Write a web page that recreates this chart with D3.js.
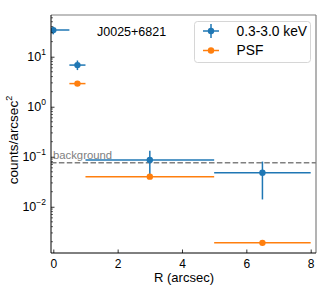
<!DOCTYPE html>
<html><head><meta charset="utf-8">
<script src="https://cdn.jsdelivr.net/npm/d3@7"></script>
<style>body{margin:0;background:#fff}svg{display:block;font-family:"Liberation Sans",Arial,sans-serif}</style>
</head><body><svg id="c" width="324" height="291"></svg>
<script>
// Data
const blueX   = [0, 0.75, 3, 6.5];
const blueXlo = [-0.5, 0.5, 1, 5];
const blueXhi = [0.5, 1.0, 5, 8];
const blueY   = [34, 6.8, 0.086, 0.048];
const blueYlo = [28, 5.4, 0.040, 0.014];
const blueYhi = [40, 8.4, 0.132, 0.080];
const psfX    = [0.75, 3, 6.5];
const psfXlo  = [0.5, 1, 5];
const psfXhi  = [1.0, 5, 8];
const psfY    = [2.9, 0.040, 0.0019];
const background = 0.076;
const xTicks = [0, 2, 4, 6, 8];
const yTicks = [0.01, 0.1, 1, 10];
const seriesNames = ["0.3-3.0 keV", "PSF"];
const colors = ["#1f77b4", "#ff7f0e"];

const svg = d3.select("#c");
const L = 51, R = 316, T = 15, B = 253;
const x = d3.scaleLinear().domain([-0.0715, 8.165]).range([L, R]);
const y = d3.scaleLog().domain([0.00119, 68.2]).range([B, T]);

svg.append("clipPath").attr("id","cp").append("rect").attr("x",L).attr("y",T).attr("width",R-L).attr("height",B-T);
const pg = svg.append("g").attr("clip-path","url(#cp)");

// background line
pg.append("line").attr("x1",L).attr("x2",R).attr("y1",y(background)).attr("y2",y(background))
  .attr("stroke","#808080").attr("stroke-width",1.5).attr("stroke-dasharray","5.5,2.4");
svg.append("text").attr("x",53).attr("y",y(background)-3.5).attr("fill","#808080").attr("font-size",11.3).text("background");

function drawSeries(xs, xlo, xhi, ys, ylo, yhi, col){
  xs.forEach((v,i)=>{
    pg.append("line").attr("x1",x(xlo[i])).attr("x2",x(xhi[i])).attr("y1",y(ys[i])).attr("y2",y(ys[i]))
      .attr("stroke",col).attr("stroke-width",1.5);
    if (ylo) pg.append("line").attr("x1",x(v)).attr("x2",x(v)).attr("y1",y(ylo[i])).attr("y2",y(yhi[i]))
      .attr("stroke",col).attr("stroke-width",1.5);
    pg.append("circle").attr("cx",x(v)).attr("cy",y(ys[i])).attr("r",3.2).attr("fill",col);
  });
}
drawSeries(blueX, blueXlo, blueXhi, blueY, blueYlo, blueYhi, colors[0]);
drawSeries(psfX, psfXlo, psfXhi, psfY, null, null, colors[1]);

// axes
const xa = svg.append("g").attr("transform",`translate(0,${B})`)
  .call(d3.axisBottom(x).tickValues(xTicks).tickSizeInner(-3.5).tickSizeOuter(0).tickPadding(6).tickFormat(d3.format("d")));
const ya = svg.append("g").attr("transform",`translate(${L},0)`)
  .call(d3.axisLeft(y).tickValues(yTicks).tickSizeInner(-3.5).tickSizeOuter(0).tickPadding(6).tickFormat(()=>""));
const minors = [];
for (let e=-3; e<=1; e++) for (let m=2; m<=9; m++){ const v=m*Math.pow(10,e); if (v>=0.00119 && v<=68.2) minors.push(v);}
svg.append("g").selectAll("line").data(minors).join("line")
  .attr("x1",L).attr("x2",L+2).attr("y1",d=>y(d)).attr("y2",d=>y(d)).attr("stroke","#000").attr("stroke-width",0.6);
[xa,ya].forEach(a=>{a.select(".domain").remove(); a.selectAll("line").attr("stroke","#000").attr("stroke-width",0.8);});
xa.selectAll("text").attr("font-size",12).attr("fill","#000").attr("font-family","Liberation Sans, Arial, sans-serif");
yTicks.forEach(v=>{
  const e = Math.round(Math.log10(v));
  const t = svg.append("text").attr("x",L-5).attr("y",y(v)+4.5).attr("text-anchor","end").attr("font-size",12.5).attr("fill","#000");
  t.append("tspan").text("10");
  t.append("tspan").attr("dy",-6).attr("font-size",8.5).text(e<0?"\u2212"+(-e):String(e));
});

// frame: top/right gray, left/bottom black
svg.append("line").attr("x1",L).attr("x2",R).attr("y1",T).attr("y2",T).attr("stroke","#808080").attr("stroke-width",1.2);
svg.append("line").attr("x1",R).attr("x2",R).attr("y1",T).attr("y2",B).attr("stroke","#808080").attr("stroke-width",1.2);
svg.append("line").attr("x1",L).attr("x2",L).attr("y1",T).attr("y2",B).attr("stroke","#000").attr("stroke-width",1);
svg.append("line").attr("x1",L).attr("x2",R).attr("y1",B).attr("y2",B).attr("stroke","#000").attr("stroke-width",1);

// title
svg.append("text").attr("x",97).attr("y",36).attr("font-size",12.5).attr("fill","#000").text("J0025+6821");

// legend
const lg = svg.append("g");
lg.append("rect").attr("x",194.5).attr("y",21.5).attr("width",116).attr("height",41).attr("rx",3)
  .attr("fill","#fff").attr("fill-opacity",0.8).attr("stroke","#ccc").attr("stroke-width",0.8);
seriesNames.forEach((n,i)=>{
  const cy = 31 + i*19.5, cx = 211;
  lg.append("line").attr("x1",cx-8).attr("x2",cx+8).attr("y1",cy).attr("y2",cy).attr("stroke",colors[i]).attr("stroke-width",1.5);
  if (i===0) lg.append("line").attr("x1",cx).attr("x2",cx).attr("y1",cy-7).attr("y2",cy+7).attr("stroke",colors[i]).attr("stroke-width",1.5);
  lg.append("circle").attr("cx",cx).attr("cy",cy).attr("r",3.2).attr("fill",colors[i]);
  lg.append("text").attr("x",236.5).attr("y",cy+4.8).attr("font-size",13.8).attr("fill","#000").text(n);
});

// axis labels
svg.append("text").attr("x",184).attr("y",282).attr("text-anchor","middle").attr("font-size",13).attr("fill","#000").text("R (arcsec)");
const yl = svg.append("text").attr("transform",`translate(18,140) rotate(-90)`).attr("text-anchor","middle").attr("font-size",13.5).attr("fill","#000");
yl.append("tspan").text("counts/arcsec");
yl.append("tspan").attr("dy",-6).attr("font-size",9).text("2");
</script></body></html>
